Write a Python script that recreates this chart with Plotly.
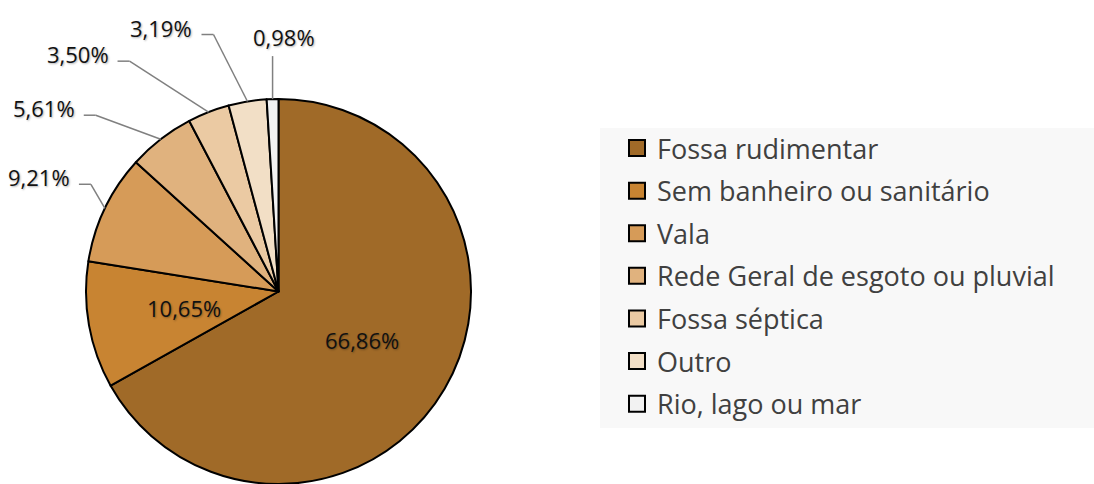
import math
import plotly.graph_objects as go

# ---------------- data ----------------
categories = [
    "Fossa rudimentar",
    "Sem banheiro ou sanitário",
    "Vala",
    "Rede Geral de esgoto ou pluvial",
    "Fossa séptica",
    "Outro",
    "Rio, lago ou mar",
]
values = [66.86, 10.65, 9.21, 5.61, 3.50, 3.19, 0.98]
slice_colors = ["#A06A28", "#C88432", "#D69B58", "#E0B27E", "#EBCAA3", "#F2DFC6", "#F2F2F2"]

# ---------------- layout constants ----------------
W, H = 1094, 484
CX, CY, R = 278.5, 291.5, 192.5          # pie centre / radius in pixels
FONT = "Open Sans"
LABEL_SIZE = 22
LEGEND_SIZE = 27
SHADOW = "1px 1px 2px rgba(0,0,0,0.30)"

# callouts: which slices get outside labels and how their leader lines bend
outside_idx = [2, 3, 4, 5, 6]
elbow_dx = [-14, -65, -79, -34, 0]
elbow_dy = [-24, -24, -51, -67, -43]
HSEG, GAP, TXT_DY = 12, 7, -7
INSIDE_FRAC = 0.5


def fmt(v):
    return f"{v:.2f}".replace(".", ",") + "%"


def px2paper(x, y):
    return x / W, 1 - y / H


label_text = [fmt(v) for v in values]
label_font = dict(family=FONT, size=LABEL_SIZE, color="#111111", shadow=SHADOW)

fig = go.Figure()
fig.add_trace(
    go.Pie(
        labels=categories,
        values=values,
        sort=False,
        direction="clockwise",
        rotation=0,
        marker=dict(colors=slice_colors, line=dict(color="#000000", width=2)),
        textinfo="none",
        hoverinfo="label+percent",
        showlegend=False,
        domain=dict(x=[(CX - R) / W, (CX + R) / W], y=[1 - (CY + R) / H, 1 - (CY - R) / H]),
    )
)

# legend entries (one group per category so the rows can be spaced)
for name, col in zip(categories, slice_colors):
    fig.add_trace(
        go.Scatter(
            x=[None], y=[None], mode="markers", name=name, legendgroup=name,
            marker=dict(symbol="square", size=16, color=col, line=dict(color="#000000", width=2)),
            hoverinfo="skip",
        )
    )

# data labels
total = sum(values)
cum = 0.0
mids = []
for v in values:
    mids.append((cum + v / 2) / total * 2 * math.pi)
    cum += v

shapes = []
annotations = []
line_style = dict(color="#808080", width=1.5)
for i, a in enumerate(mids):
    if i not in outside_idx:
        tx, ty = px2paper(CX + INSIDE_FRAC * R * math.sin(a), CY - INSIDE_FRAC * R * math.cos(a))
        annotations.append(dict(x=tx, y=ty, xref="paper", yref="paper", text=label_text[i],
                                showarrow=False, xanchor="center", yanchor="middle", font=label_font))
        continue
    k = outside_idx.index(i)
    ex, ey = CX + R * math.sin(a), CY - R * math.cos(a)
    bx, by = ex + elbow_dx[k], ey + elbow_dy[k]
    x0, y0 = px2paper(ex, ey)
    x1, y1 = px2paper(bx, by)
    shapes.append(dict(type="line", xref="paper", yref="paper", x0=x0, y0=y0, x1=x1, y1=y1, line=line_style))
    if elbow_dx[k] != 0:
        hx, hy = px2paper(bx - HSEG, by)
        shapes.append(dict(type="line", xref="paper", yref="paper", x0=x1, y0=y1, x1=hx, y1=hy, line=line_style))
        tx, ty = px2paper(bx - HSEG - GAP, by + TXT_DY)
        annotations.append(dict(x=tx, y=ty, xref="paper", yref="paper", text=label_text[i],
                                showarrow=False, xanchor="right", yanchor="middle", font=label_font))
    else:
        tx, ty = px2paper(bx + 11, by - 2)
        annotations.append(dict(x=tx, y=ty, xref="paper", yref="paper", text=label_text[i],
                                showarrow=False, xanchor="center", yanchor="bottom", font=label_font))

# legend background panel
shapes.append(dict(type="rect", xref="paper", yref="paper", x0=600 / W, x1=1.0,
                   y0=1 - 428 / H, y1=1 - 128 / H, fillcolor="#F8F8F8", line=dict(width=0), layer="below"))

fig.update_layout(
    width=W,
    height=H,
    margin=dict(l=0, r=0, t=0, b=0),
    paper_bgcolor="#FFFFFF",
    plot_bgcolor="rgba(0,0,0,0)",
    xaxis=dict(visible=False),
    yaxis=dict(visible=False),
    showlegend=True,
    legend=dict(
        x=617 / W, xanchor="left",
        y=1 - 124 / H, yanchor="top",
        bgcolor="rgba(0,0,0,0)",
        font=dict(family=FONT, size=LEGEND_SIZE, color="#404040"),
        traceorder="grouped",
        tracegroupgap=4.5,
        itemclick=False, itemdoubleclick=False,
    ),
    shapes=shapes,
    annotations=annotations,
)

fig.write_html("out.html")
